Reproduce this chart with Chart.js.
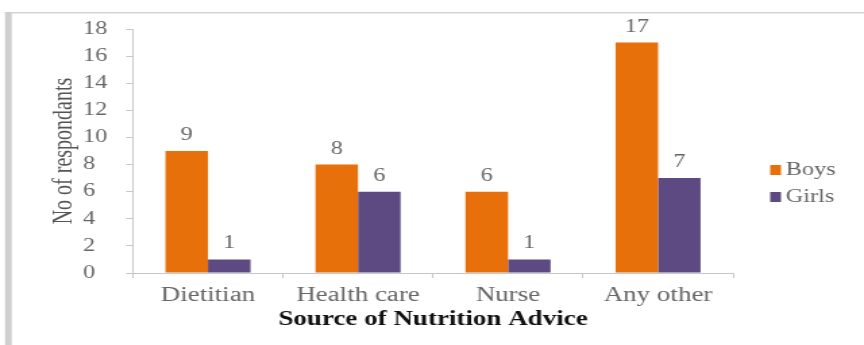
<!DOCTYPE html>
<html>
<head>
<meta charset="utf-8">
<script src="https://cdn.jsdelivr.net/npm/chart.js@4.4.1/dist/chart.umd.min.js"></script>
<style>
    html, body { margin: 0; padding: 0; background: #fff; overflow: hidden; }
    #wrap { width: 864px; height: 345px; position: relative; }
    /* the source picture is stretched sideways, so the canvas is too */
    #chart { transform: scaleX(1.35); transform-origin: 0 0; }
</style>
</head>
<body>
<div id="wrap"><canvas id="chart" width="640" height="345"></canvas></div>
<script>
    const categories = ['Dietitian', 'Health care', 'Nurse', 'Any other'];
    const boys = [9, 8, 6, 17];
    const girls = [1, 6, 1, 7];
    const yTicks = [0, 2, 4, 6, 8, 10, 12, 14, 16, 18];

    const serif = '"Liberation Serif", "DejaVu Serif", serif';
    const textGrey = '#666666';
    const axisGrey = '#c4c7d1';

    // frame, value labels and the legend on the right
    const decorations = {
        id: 'decorations',
        beforeDraw(chart) {
            const ctx = chart.ctx;
            ctx.save();
            ctx.fillStyle = '#d4d4d4';
            ctx.fillRect(3.7, 12, 640, 1.5);
            ctx.fillStyle = '#cfcfcf';
            ctx.fillRect(3.7, 12, 5, 333);
            ctx.restore();
        },
        afterDatasetsDraw(chart) {
            const ctx = chart.ctx;
            ctx.save();
            ctx.font = '18px ' + serif;
            ctx.fillStyle = textGrey;
            ctx.textAlign = 'center';
            ctx.textBaseline = 'alphabetic';
            chart.data.datasets.forEach((ds, i) => {
                chart.getDatasetMeta(i).data.forEach((bar, j) => {
                    ctx.fillText(String(ds.data[j]), bar.x, bar.y - 11);
                });
            });

            // legend
            ctx.textAlign = 'left';
            ctx.textBaseline = 'middle';
            chart.data.datasets.forEach((ds, i) => {
                const y = 170 + i * 27;
                ctx.fillStyle = ds.backgroundColor;
                ctx.fillRect(570.5, y - 5, 8, 10);
                ctx.fillStyle = textGrey;
                ctx.fillText(ds.label, 582, y);
            });
            ctx.restore();
        }
    };

    new Chart(document.getElementById('chart'), {
        type: 'bar',
        data: {
            labels: categories,
            datasets: [
                { label: 'Boys', data: boys, backgroundColor: '#e8700a' },
                { label: 'Girls', data: girls, backgroundColor: '#5d4a82' }
            ]
        },
        options: {
            responsive: false,
            animation: false,
            layout: { padding: { left: 28, right: 97, top: 29, bottom: 0 } },
            datasets: {
                bar: { categoryPercentage: 0.567, barPercentage: 1 }
            },
            plugins: {
                legend: { display: false },
                tooltip: { enabled: false }
            },
            scales: {
                x: {
                    offset: true,
                    afterFit(scale) { scale.height = 72; },
                    grid: {
                        offset: true,
                        drawOnChartArea: false,
                        tickLength: 5,
                        color: axisGrey
                    },
                    border: { color: axisGrey },
                    ticks: {
                        padding: 6,
                        color: textGrey,
                        font: { family: serif, size: 20 }
                    },
                    title: {
                        display: true,
                        text: 'Source of Nutrition Advice',
                        color: '#111',
                        padding: { top: 0, bottom: 13 },
                        font: { family: serif, size: 20, weight: 'bold' }
                    }
                },
                y: {
                    min: 0,
                    max: 18,
                    afterFit(scale) { scale.width = 70.5; },
                    afterBuildTicks(scale) {
                        scale.ticks = yTicks.map(v => ({ value: v }));
                    },
                    grid: {
                        drawOnChartArea: false,
                        tickLength: 5,
                        color: axisGrey
                    },
                    border: { color: axisGrey },
                    ticks: {
                        padding: 14,
                        color: textGrey,
                        font: { family: serif, size: 18 },
                        // labels sit flush left in the source, pad the single digits
                        callback: (v) => (v < 10 ? v + '\u2007' : String(v))
                    },
                    title: {
                        display: true,
                        text: 'No of respondants',
                        color: '#555',
                        padding: { top: 8, bottom: 0 },
                        font: { family: serif, size: 20 }
                    }
                }
            }
        },
        plugins: [decorations]
    });
</script>
</body>
</html>
